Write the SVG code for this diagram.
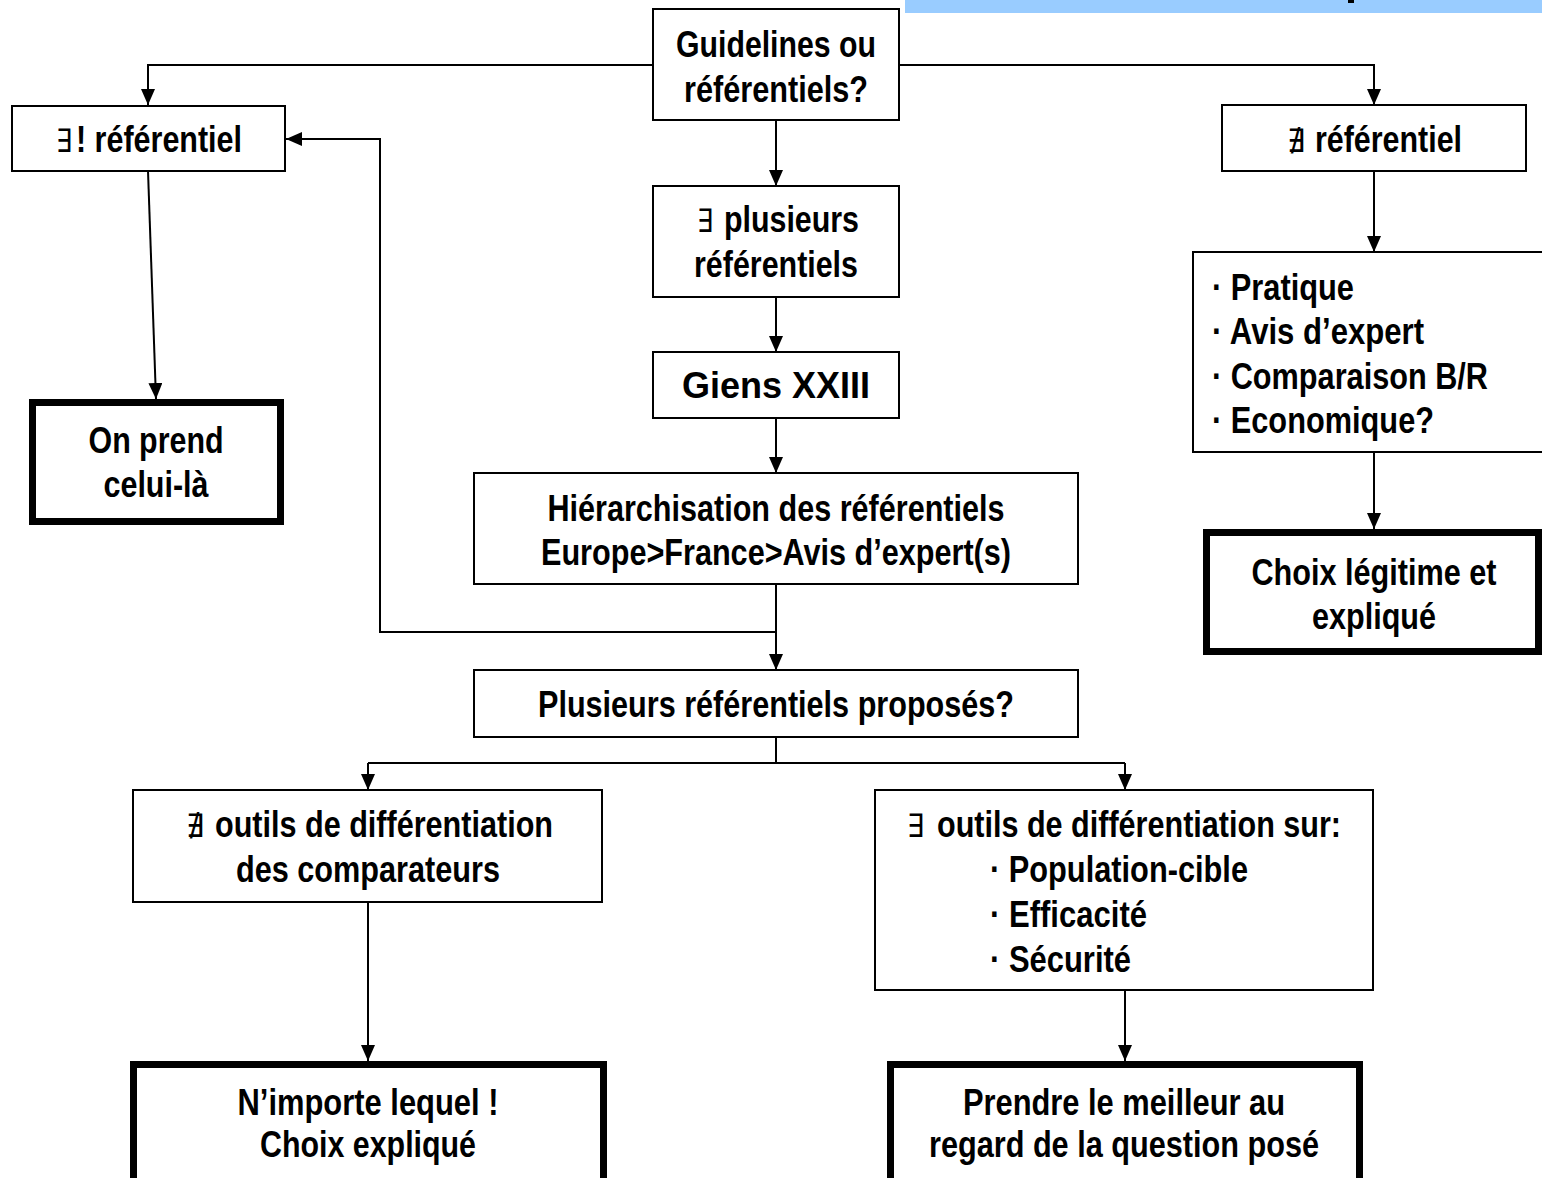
<svg xmlns="http://www.w3.org/2000/svg" width="1542" height="1178" viewBox="0 0 1542 1178">
<style>
.box{fill:#fff;stroke:#000;stroke-width:2}
.thick{fill:#fff;stroke:#000;stroke-width:7}
.t{font-family:"Liberation Sans Narrow","Arial Narrow","Liberation Sans",Arial,sans-serif;font-weight:bold;font-size:36px;fill:#000}
.c{text-anchor:middle}
.w{font-family:"Liberation Sans",Arial,sans-serif}
.sym{font-family:"DejaVu Sans",sans-serif;font-weight:normal;font-size:32px;fill:#000}
.ln{fill:none;stroke:#000;stroke-width:2}
</style>
<defs>
<marker id="ah" markerUnits="userSpaceOnUse" markerWidth="16" markerHeight="14" refX="16" refY="7" orient="auto">
<path d="M0,0 L16,7 L0,14 z" fill="#000"/>
</marker>
</defs>
<rect x="905" y="0" width="637" height="13" fill="#99ccff"/>
<rect x="1348" y="0" width="6" height="3" fill="#000"/>
<g id="connectors">
<path class="ln" d="M653,65 H148 V105" marker-end="url(#ah)"/>
<path class="ln" d="M899,65 H1374 V105" marker-end="url(#ah)"/>
<path class="ln" d="M776,120 V186" marker-end="url(#ah)"/>
<path class="ln" d="M776,297 V352" marker-end="url(#ah)"/>
<path class="ln" d="M776,418 V473" marker-end="url(#ah)"/>
<path class="ln" d="M776,584 V670" marker-end="url(#ah)"/>
<path class="ln" d="M776,632 H380 V139 H286" marker-end="url(#ah)"/>
<path class="ln" d="M148,171 L156,399" marker-end="url(#ah)"/>
<path class="ln" d="M1374,171 V252" marker-end="url(#ah)"/>
<path class="ln" d="M1374,452 V529" marker-end="url(#ah)"/>
<path class="ln" d="M776,737 V763 M368,763 H1125"/>
<path class="ln" d="M368,763 V790" marker-end="url(#ah)"/>
<path class="ln" d="M1125,763 V790" marker-end="url(#ah)"/>
<path class="ln" d="M368,902 V1061" marker-end="url(#ah)"/>
<path class="ln" d="M1125,990 V1061" marker-end="url(#ah)"/>
</g>
<g id="n-guidelines">
<rect class="box" x="653" y="9" width="246" height="111"/>
<text class="t c" x="776" y="57" textLength="200" lengthAdjust="spacingAndGlyphs">Guidelines ou</text>
<text class="t c" x="776" y="102" textLength="184" lengthAdjust="spacingAndGlyphs">référentiels?</text>
</g>
<g id="n-unique">
<rect class="box" x="12" y="106" width="273" height="65"/>
<text class="sym" x="56" y="152" textLength="16" lengthAdjust="spacingAndGlyphs">∃</text>
<text class="t" x="76" y="152" textLength="166" lengthAdjust="spacingAndGlyphs">! référentiel</text>
</g>
<g id="n-aucun">
<rect class="box" x="1222" y="105" width="304" height="66"/>
<text class="sym" x="1287" y="152" textLength="18" lengthAdjust="spacingAndGlyphs">∄</text>
<text class="t" x="1315" y="152" textLength="147" lengthAdjust="spacingAndGlyphs">référentiel</text>
</g>
<g id="n-criteres">
<rect class="box" x="1193" y="252" width="360" height="200"/>
<text class="t" x="1212" y="300" textLength="142" lengthAdjust="spacingAndGlyphs">· Pratique</text>
<text class="t" x="1212" y="344" textLength="212" lengthAdjust="spacingAndGlyphs">· Avis d’expert</text>
<text class="t" x="1212" y="389" textLength="276" lengthAdjust="spacingAndGlyphs">· Comparaison B/R</text>
<text class="t" x="1212" y="433" textLength="222" lengthAdjust="spacingAndGlyphs">· Economique?</text>
</g>
<g id="n-choix-legitime">
<rect class="thick" x="1206.5" y="532.5" width="332" height="119"/>
<text class="t c" x="1374" y="585" textLength="245" lengthAdjust="spacingAndGlyphs">Choix légitime et</text>
<text class="t c" x="1374" y="629" textLength="124" lengthAdjust="spacingAndGlyphs">expliqué</text>
</g>
<g id="n-onprend">
<rect class="thick" x="32.5" y="402.5" width="248" height="119"/>
<text class="t c" x="156" y="453" textLength="135" lengthAdjust="spacingAndGlyphs">On prend</text>
<text class="t c" x="156" y="497" textLength="105" lengthAdjust="spacingAndGlyphs">celui-là</text>
</g>
<g id="n-plusieurs">
<rect class="box" x="653" y="186" width="246" height="111"/>
<text class="sym" x="697" y="232" textLength="16" lengthAdjust="spacingAndGlyphs">∃</text>
<text class="t" x="724" y="232" textLength="135" lengthAdjust="spacingAndGlyphs">plusieurs</text>
<text class="t c" x="776" y="277" textLength="164" lengthAdjust="spacingAndGlyphs">référentiels</text>
</g>
<g id="n-giens">
<rect class="box" x="653" y="352" width="246" height="66"/>
<text class="t c w" x="776" y="398">Giens XXIII</text>
</g>
<g id="n-hierarchisation">
<rect class="box" x="474" y="473" width="604" height="111"/>
<text class="t c" x="776" y="521" textLength="457" lengthAdjust="spacingAndGlyphs">Hiérarchisation des référentiels</text>
<text class="t c" x="776" y="565" textLength="470" lengthAdjust="spacingAndGlyphs">Europe&gt;France&gt;Avis d’expert(s)</text>
</g>
<g id="n-proposes">
<rect class="box" x="474" y="670" width="604" height="67"/>
<text class="t c" x="776" y="717" textLength="476" lengthAdjust="spacingAndGlyphs">Plusieurs référentiels proposés?</text>
</g>
<g id="n-pas-outils">
<rect class="box" x="133" y="790" width="469" height="112"/>
<text class="sym" x="186" y="837" textLength="18" lengthAdjust="spacingAndGlyphs">∄</text>
<text class="t" x="215" y="837" textLength="338" lengthAdjust="spacingAndGlyphs">outils de différentiation</text>
<text class="t c" x="368" y="882" textLength="264" lengthAdjust="spacingAndGlyphs">des comparateurs</text>
</g>
<g id="n-outils">
<rect class="box" x="875" y="790" width="498" height="200"/>
<text class="sym" x="907" y="837" textLength="17" lengthAdjust="spacingAndGlyphs">∃</text>
<text class="t" x="937" y="837" textLength="404" lengthAdjust="spacingAndGlyphs">outils de différentiation sur:</text>
<text class="t" x="990" y="882" textLength="258" lengthAdjust="spacingAndGlyphs">· Population-cible</text>
<text class="t" x="990" y="927" textLength="157" lengthAdjust="spacingAndGlyphs">· Efficacité</text>
<text class="t" x="990" y="972" textLength="141" lengthAdjust="spacingAndGlyphs">· Sécurité</text>
</g>
<g id="n-nimporte">
<rect class="thick" x="133.5" y="1064.5" width="470" height="130"/>
<text class="t c" x="368" y="1115" textLength="261" lengthAdjust="spacingAndGlyphs">N’importe lequel !</text>
<text class="t c" x="368" y="1157" textLength="216" lengthAdjust="spacingAndGlyphs">Choix expliqué</text>
</g>
<g id="n-prendre">
<rect class="thick" x="890.5" y="1064.5" width="469" height="130"/>
<text class="t c" x="1124" y="1115" textLength="322" lengthAdjust="spacingAndGlyphs">Prendre le meilleur au</text>
<text class="t c" x="1124" y="1157" textLength="390" lengthAdjust="spacingAndGlyphs">regard de la question posé</text>
</g>
</svg>
